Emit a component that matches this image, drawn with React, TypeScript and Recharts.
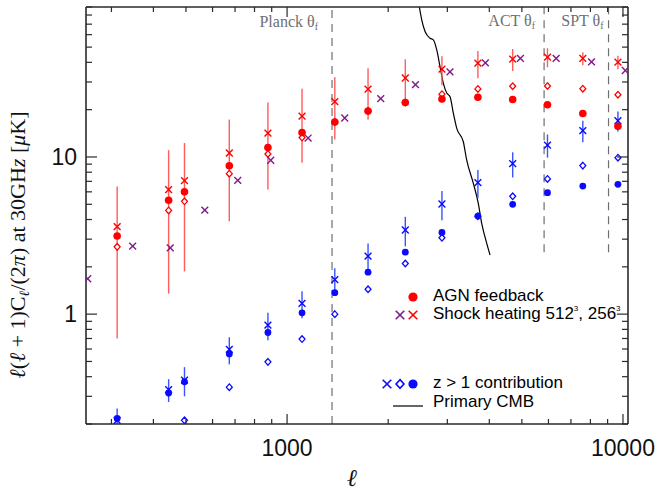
import React from 'react';
import {
  ComposedChart,
  Scatter,
  Line,
  XAxis,
  YAxis,
  ErrorBar,
  ReferenceLine,
  Customized,
} from 'recharts';

// ---------- data ----------
const ellAgn = [312, 444, 495, 673, 877, 1108, 1387, 1742, 2249, 2891, 3699, 4695, 5960, 7593, 9660];
const agnCircle = [3.14, 5.3, 6.0, 8.8, 11.5, 14.3, 16.7, 19.6, 22.2, 23.4, 24.0, 23.2, 21.5, 18.9, 15.7];
const agnDiamond = [2.68, 4.57, 5.22, 7.83, 10.45, 13.3, 16.7, 19.6, 22.2, 25.1, 27.1, 28.2, 28.3, 27.2, 24.9];
const shock256 = [3.6, 6.2, 7.07, 10.6, 14.2, 18.2, 22.5, 27.0, 31.8, 36.2, 39.5, 41.9, 43.2, 42.4, 40.1];
const shock256Err = [2.9, 4.85, 5.2, 6.7, 8.0, 9.0, 9.6, 9.7, 10.0, 7.6, 7.8, 6.7, 6.0, 4.0, 4.0];

const ell512 = [255, 347, 449, 569, 713, 894, 1155, 1485, 1900, 2411, 3055, 3893, 4950, 6325, 8060, 10160];
const shock512 = [1.68, 2.71, 2.64, 4.59, 7.1, 9.53, 13.2, 17.7, 23.5, 28.9, 34.8, 39.7, 42.4, 42.4, 40.3, 35.5];

const zCircle = [0.217, 0.315, 0.371, 0.558, 0.764, 1.02, 1.37, 1.85, 2.48, 3.31, 4.21, 5.0, 5.93, 6.53, 6.7];
const ellZDiamond = [495, 673, 877, 1108, 1387, 1742, 2249, 2891, 3699, 4695, 5960, 7593, 9660];
const zDiamond = [0.211, 0.343, 0.497, 0.694, 1.0, 1.44, 2.1, 3.06, 4.2, 5.62, 7.25, 8.81, 9.9];
const zCross = [0.211, 0.331, 0.38, 0.596, 0.851, 1.17, 1.66, 2.34, 3.43, 5.02, 6.86, 9.06, 11.9, 14.7, 17.0];
const zCrossErr = [0.04, 0.055, 0.08, 0.117, 0.17, 0.23, 0.3, 0.48, 0.73, 1.06, 1.4, 1.65, 2.0, 2.3, 2.5];

const ellCmb = [2476, 2517, 2575, 2665, 2725, 2790, 2853, 2919, 2988, 3056, 3126, 3200, 3347, 3425, 3585, 3709, 3797, 3930, 4020];
const cmbVals = [90, 74.6, 62.8, 57.0, 55.6, 48.0, 37.6, 29.4, 25.5, 24.2, 19.0, 15.2, 12.5, 9.57, 6.8, 5.07, 3.78, 2.82, 2.38];

const planckEll = 1361;
const actEll = 5823;
const sptEll = 9057;
const experimentLineBottom = 2.48;

const xTicks = [300, 400, 500, 600, 700, 800, 900, 1000, 2000, 3000, 4000, 5000, 6000, 7000, 8000, 9000, 10000];
const xMajor = [1000, 10000];
const yTicks = [0.2, 0.3, 0.4, 0.5, 0.6, 0.7, 0.8, 0.9, 1, 2, 3, 4, 5, 6, 7, 8, 9, 10, 20, 30, 40, 50, 60, 70, 80, 90];
const yMajor = [1, 10];

const X_DOMAIN = [252, 10350];
const Y_DOMAIN = [0.2, 90];

// ---------- build series ----------
// error bars are clipped at the bottom of the plotted range
const clipErr = (y: number, e: number) => [Math.min(e, y - Y_DOMAIN[0]), e];
const zip = (xs: number[], ys: number[], errs?: number[]) =>
  xs.map((x, i) => (errs ? { x, y: ys[i], err: clipErr(ys[i], errs[i]) } : { x, y: ys[i] }));

const agnCircleData = zip(ellAgn, agnCircle);
const agnDiamondData = zip(ellAgn, agnDiamond);
const shock256Data = zip(ellAgn, shock256, shock256Err);
const shock512Data = zip(ell512, shock512);
const zCircleData = zip(ellAgn, zCircle);
const zDiamondData = zip(ellZDiamond, zDiamond);
const zCrossData = zip(ellAgn, zCross, zCrossErr);
const cmbData = zip(ellCmb, cmbVals);

// ---------- styles ----------
const RED = '#ff0000';
const RED_BAR = '#ff5c5c';
const PURPLE = '#7f1a86';
const BLUE = '#0a0aff';
const BLUE_BAR = '#3b52ff';
const AXIS = '#2a2a2a';
const GRAY = '#6f6f6f';
const SANS = 'Liberation Sans, Arial, Helvetica, sans-serif';
const SERIF = 'Liberation Serif, Times New Roman, DejaVu Serif, serif';

const CrossMark = ({ cx, cy, color, s = 3.4, w = 1.4 }: any) => (
  <g stroke={color} strokeWidth={w}>
    <line x1={cx - s} y1={cy - s} x2={cx + s} y2={cy + s} />
    <line x1={cx - s} y1={cy + s} x2={cx + s} y2={cy - s} />
  </g>
);
const DiamondMark = ({ cx, cy, color, s = 3.3, w = 1.3 }: any) => (
  <path
    d={`M${cx},${cy - s} L${cx + s * 0.9},${cy} L${cx},${cy + s} L${cx - s * 0.9},${cy} Z`}
    fill="#fff"
    stroke={color}
    strokeWidth={w}
  />
);
const DotMark = ({ cx, cy, color, r = 3.8 }: any) => <circle cx={cx} cy={cy} r={r} fill={color} />;

// ---------- ticks ----------
const BottomTick = (p: any) => {
  const v = p.payload.value;
  const major = xMajor.includes(v);
  return (
    <g>
      <line x1={p.x} x2={p.x} y1={p.y} y2={p.y - (major ? 10 : 5)} stroke={AXIS} strokeWidth={1.2} />
      {major && (
        <text x={p.x} y={p.y + 32} textAnchor="middle" fontFamily={SANS} fontSize={23} fill="#111">
          {v}
        </text>
      )}
    </g>
  );
};
const TopTick = (p: any) => {
  const v = p.payload.value;
  const major = xMajor.includes(v);
  return <line x1={p.x} x2={p.x} y1={p.y} y2={p.y + (major ? 10 : 5)} stroke={AXIS} strokeWidth={1.2} />;
};
const LeftTick = (p: any) => {
  const v = p.payload.value;
  const major = yMajor.includes(v);
  return (
    <g>
      <line x1={p.x} x2={p.x + (major ? 11 : 6)} y1={p.y} y2={p.y} stroke={AXIS} strokeWidth={1.2} />
      {major && (
        <text x={p.x - 9} y={p.y + 8} textAnchor="end" fontFamily={SANS} fontSize={23} fill="#111">
          {v}
        </text>
      )}
    </g>
  );
};
const RightTick = (p: any) => {
  const v = p.payload.value;
  const major = yMajor.includes(v);
  return <line x1={p.x} x2={p.x - (major ? 11 : 6)} y1={p.y} y2={p.y} stroke={AXIS} strokeWidth={1.2} />;
};

// ---------- experiment labels ----------
const ThetaLabel = (p: any) => {
  const vb = p.viewBox || {};
  return (
    <text
      x={vb.x - p.dx}
      y={vb.y + p.dy}
      textAnchor="end"
      fontFamily={SERIF}
      fontSize={16}
      fill={GRAY}
    >
      {p.name} θ
      <tspan fontSize={10} dy={3}>
        f
      </tspan>
    </text>
  );
};

// ---------- decorations (legend + axis titles) ----------
const Decor = () => (
  <g>
    {/* y axis title */}
    <text
      transform="translate(25,245) rotate(-90)"
      textAnchor="middle"
      fontFamily={SERIF}
      fontSize={22}
      fill="#111"
    >
      <tspan fontStyle="italic">ℓ</tspan>
      <tspan>(</tspan>
      <tspan fontStyle="italic">ℓ</tspan>
      <tspan>{' + 1)C'}</tspan>
      <tspan fontStyle="italic" fontSize={14} dy={4}>
        ℓ
      </tspan>
      <tspan dy={-4}>/(2</tspan>
      <tspan fontStyle="italic">π</tspan>
      <tspan>{')  at 30GH'}</tspan>
      <tspan fontStyle="italic">z</tspan>
      <tspan>{' ['}</tspan>
      <tspan fontStyle="italic">μ</tspan>
      <tspan>K]</tspan>
    </text>
    {/* x axis title */}
    <text x={352} y={486} textAnchor="middle" fontFamily={SERIF} fontStyle="italic" fontSize={24} fill="#111">
      ℓ
    </text>

    {/* legend */}
    <g fontFamily={SANS} fontSize={17} fill="#000">
      <DotMark cx={413} cy={297} color={RED} r={4.6} />
      <text x={433} y={301}>AGN feedback</text>

      <CrossMark cx={400} cy={315} color={PURPLE} s={4.3} w={1.6} />
      <CrossMark cx={413} cy={315} color={RED} s={4.3} w={1.6} />
      <text x={433} y={319}>
        Shock heating 512
        <tspan fontSize={8} dy={-8}>
          3
        </tspan>
        <tspan dy={8}>, 256</tspan>
        <tspan fontSize={8} dy={-8}>
          3
        </tspan>
      </text>

      <CrossMark cx={387} cy={384} color={BLUE} s={4.3} w={1.6} />
      <DiamondMark cx={400} cy={384} color={BLUE} s={4.4} w={1.6} />
      <DotMark cx={413} cy={384} color={BLUE} r={4.6} />
      <text x={433} y={388}>z &gt; 1 contribution</text>

      <line x1={393} x2={423} y1={406} y2={406} stroke="#000" strokeWidth={1.2} />
      <text x={433} y={407}>Primary CMB</text>
    </g>
  </g>
);

export default function App() {
  return (
    <div style={{ position: 'absolute', left: 0, top: 0, background: '#fff' }}>
      <ComposedChart width={661} height={493} margin={{ top: 6, right: 32, bottom: 68, left: 85 }}>
        <XAxis
          xAxisId="main"
          dataKey="x"
          type="number"
          scale="log"
          domain={X_DOMAIN}
          allowDataOverflow
          ticks={xTicks}
          interval={0}
          height={1}
          tickSize={0}
          tickMargin={0}
          tick={<BottomTick />}
          axisLine={{ stroke: AXIS, strokeWidth: 1.6 }}
          tickLine={false}
        />
        <XAxis
          xAxisId="top"
          orientation="top"
          dataKey="x"
          type="number"
          scale="log"
          domain={X_DOMAIN}
          allowDataOverflow
          ticks={xTicks}
          interval={0}
          height={1}
          tickSize={0}
          tickMargin={0}
          tick={<TopTick />}
          axisLine={{ stroke: AXIS, strokeWidth: 1.6 }}
          tickLine={false}
        />
        <YAxis
          yAxisId="main"
          dataKey="y"
          type="number"
          scale="log"
          domain={Y_DOMAIN}
          allowDataOverflow
          ticks={yTicks}
          interval={0}
          width={1}
          tickSize={0}
          tickMargin={0}
          tick={<LeftTick />}
          axisLine={{ stroke: AXIS, strokeWidth: 1.6 }}
          tickLine={false}
        />
        <YAxis
          yAxisId="right"
          orientation="right"
          dataKey="y"
          type="number"
          scale="log"
          domain={Y_DOMAIN}
          allowDataOverflow
          ticks={yTicks}
          interval={0}
          width={1}
          tickSize={0}
          tickMargin={0}
          tick={<RightTick />}
          axisLine={{ stroke: AXIS, strokeWidth: 1.6 }}
          tickLine={false}
        />

        <ReferenceLine
          xAxisId="main"
          yAxisId="main"
          x={planckEll}
          stroke={GRAY}
          strokeWidth={1.2}
          strokeDasharray="8 6"
          label={<ThetaLabel name="Planck" dx={14} dy={20} />}
        />
        <ReferenceLine
          xAxisId="main"
          yAxisId="main"
          segment={[
            { x: actEll, y: experimentLineBottom },
            { x: actEll, y: Y_DOMAIN[1] },
          ]}
          stroke={GRAY}
          strokeWidth={1.2}
          strokeDasharray="8 6"
          label={<ThetaLabel name="ACT" dx={9} dy={19} />}
        />
        <ReferenceLine
          xAxisId="main"
          yAxisId="main"
          segment={[
            { x: sptEll, y: experimentLineBottom },
            { x: sptEll, y: Y_DOMAIN[1] },
          ]}
          stroke={GRAY}
          strokeWidth={1.2}
          strokeDasharray="8 6"
          label={<ThetaLabel name="SPT" dx={5} dy={19} />}
        />

        <Line
          xAxisId="main"
          yAxisId="main"
          data={cmbData}
          dataKey="y"
          type="monotone"
          stroke="#000"
          strokeWidth={1.2}
          dot={false}
          isAnimationActive={false}
        />

        {/* z > 1 contributions */}
        <Scatter
          xAxisId="main"
          yAxisId="main"
          data={zDiamondData}
          dataKey="y"
          isAnimationActive={false}
          shape={(p: any) => <DiamondMark cx={p.cx} cy={p.cy} color={BLUE} />}
        />
        <Scatter
          xAxisId="main"
          yAxisId="main"
          data={zCircleData}
          dataKey="y"
          isAnimationActive={false}
          shape={(p: any) => <DotMark cx={p.cx} cy={p.cy} color={BLUE} r={3.4} />}
        />
        <Scatter
          xAxisId="main"
          yAxisId="main"
          data={zCrossData}
          dataKey="y"
          isAnimationActive={false}
          shape={(p: any) => <CrossMark cx={p.cx} cy={p.cy} color={BLUE} />}
        >
          <ErrorBar dataKey="err" direction="y" width={0} stroke={BLUE_BAR} strokeWidth={1.4} />
        </Scatter>

        {/* AGN feedback */}
        <Scatter
          xAxisId="main"
          yAxisId="main"
          data={agnDiamondData}
          dataKey="y"
          isAnimationActive={false}
          shape={(p: any) => <DiamondMark cx={p.cx} cy={p.cy} color={RED} />}
        />
        <Scatter
          xAxisId="main"
          yAxisId="main"
          data={agnCircleData}
          dataKey="y"
          isAnimationActive={false}
          shape={(p: any) => <DotMark cx={p.cx} cy={p.cy} color={RED} />}
        />

        {/* shock heating */}
        <Scatter
          xAxisId="main"
          yAxisId="main"
          data={shock256Data}
          dataKey="y"
          isAnimationActive={false}
          shape={(p: any) => <CrossMark cx={p.cx} cy={p.cy} color={RED} />}
        >
          <ErrorBar dataKey="err" direction="y" width={0} stroke={RED_BAR} strokeWidth={1.4} />
        </Scatter>
        <Scatter
          xAxisId="main"
          yAxisId="main"
          data={shock512Data}
          dataKey="y"
          isAnimationActive={false}
          shape={(p: any) => <CrossMark cx={p.cx} cy={p.cy} color={PURPLE} />}
        />

        <Customized component={Decor} />
      </ComposedChart>
    </div>
  );
}
